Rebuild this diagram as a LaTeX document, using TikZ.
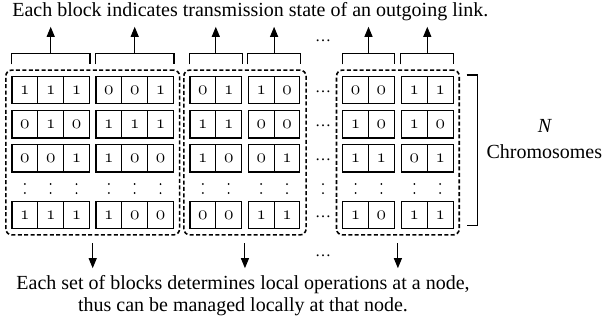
\documentclass[tikz,border=0pt]{standalone}
\usepackage{fontspec}
\setmainfont{Liberation Serif}
\usetikzlibrary{arrows.meta,fit,calc}

% old style digits for the bits
\newcommand{\bitfont}{\fontsize{14.4}{14.4}\usefont{OML}{cmm}{m}{it}}

\begin{document}
\begin{tikzpicture}[x=0.75pt,y=0.75pt,yscale=-1,xscale=1,
  cell/.style={draw,line width=0.85pt,minimum width=19.35pt,minimum height=20.6pt,inner sep=0pt,font=\bitfont},
  group/.style={draw,line width=1.2pt,dash pattern=on 3pt off 1.8pt,rounded corners=4.5pt,inner sep=4.2pt},
  brace/.style={line width=0.8pt},
  link/.style={line width=0.8pt,-{Triangle[length=7.5pt,width=6pt]}},
  txt/.style={font=\fontsize{15}{16.3}\selectfont,inner sep=0pt},
  more/.style={font=\fontsize{12}{12}\selectfont,inner sep=0pt,anchor=base}
]
\useasboundingbox (0,0) rectangle (603,322);

%Shape: Blocks of cells
\foreach \b/\x/\rows in {
  1/12/{{1,1,1},{0,1,0},{0,0,1},{1,1,1}},
  2/96/{{0,0,1},{1,1,1},{1,0,0},{1,0,0}},
  3/190/{{0,1},{1,1},{1,0},{0,0}},
  4/248.3/{{1,0},{0,0},{0,1},{1,1}},
  5/342.7/{{0,0},{1,0},{1,1},{1,0}},
  6/401.5/{{1,1},{1,0},{0,1},{1,1}}}{
  \foreach \bits [count=\r] in \rows {
    \pgfmathsetmacro{\y}{{90,124.2,158.2,215}[\r-1]}
    \foreach \v [count=\k] in \bits
      \node[cell] (b\b-\r-\k) at (\x+25.8*\k-12.9,\y) {\v};
  }
}

%Brackets over blocks
\foreach \b/\n in {1/3,2/3,3/2,4/2,5/2,6/2}{
  \draw[brace] (b\b-1-1.west |- 0,64.3) -- (b\b-1-1.west |- 0,53.3) -- (b\b-1-\n.east |- 0,53.3) -- (b\b-1-\n.east |- 0,64.3);
  \coordinate (t\b) at ($(b\b-1-1.west |- 0,53.3)!0.5!(b\b-1-\n.east |- 0,53.3)$);
  \coordinate (u\b) at ($(t\b)+(0,-26.5)$);
  \draw[link] (t\b) -- (u\b);
  % vertical dots of the skipped rows
  \foreach \k in {1,...,\n}{
    \fill ($(b\b-4-\k)+(0,-31)$) circle (1);
    \fill ($(b\b-4-\k)+(0,-22)$) circle (1);
  }
}

%Dashed groups
\node[group,fit=(b1-1-1)(b2-4-3)] (g1) {};
\node[group,fit=(b3-1-1)(b4-4-2)] (g2) {};
\node[group,fit=(b5-1-1)(b6-4-2)] (g3) {};
\foreach \g in {1,2,3}{
  \coordinate (s\g) at ($(g\g.south)+(0,7.5)$);
  \coordinate (e\g) at ($(s\g)+(0,25)$);
  \draw[link] (s\g) -- (e\g);
}

%Skipped links
\foreach \y [count=\r] in {90,124.2,158.2,215}
  \node[more] (hd\r) at (323,\y+2.5) {…};
\node[more] (hdtop) at (323,41.5) {…};
\node[more] (hdbot) at (323,256.5) {…};
\fill (323,184) circle (1);
\fill (323,193) circle (1);

%Bracket of chromosomes
\draw[brace] (466.7,75) -- (477.7,75) -- (477.7,225.7) -- (466.7,225.7);

% Text Node
\node[txt,anchor=base] (title) at (250.3,16.7) {Each block indicates transmission state of an outgoing link.};
% Text Node
\node[txt,anchor=base] (nlab) at (545,132.7) {\textit{N}};
% Text Node
\node[txt,anchor=base] (chrom) at (544.3,158) {Chromosomes};
% Text Node
\node[txt,align=center,anchor=north] (note) at (243,275) {Each set of blocks determines local operations at a node,\\ thus can be managed locally at that node.};

\end{tikzpicture}
\end{document}
